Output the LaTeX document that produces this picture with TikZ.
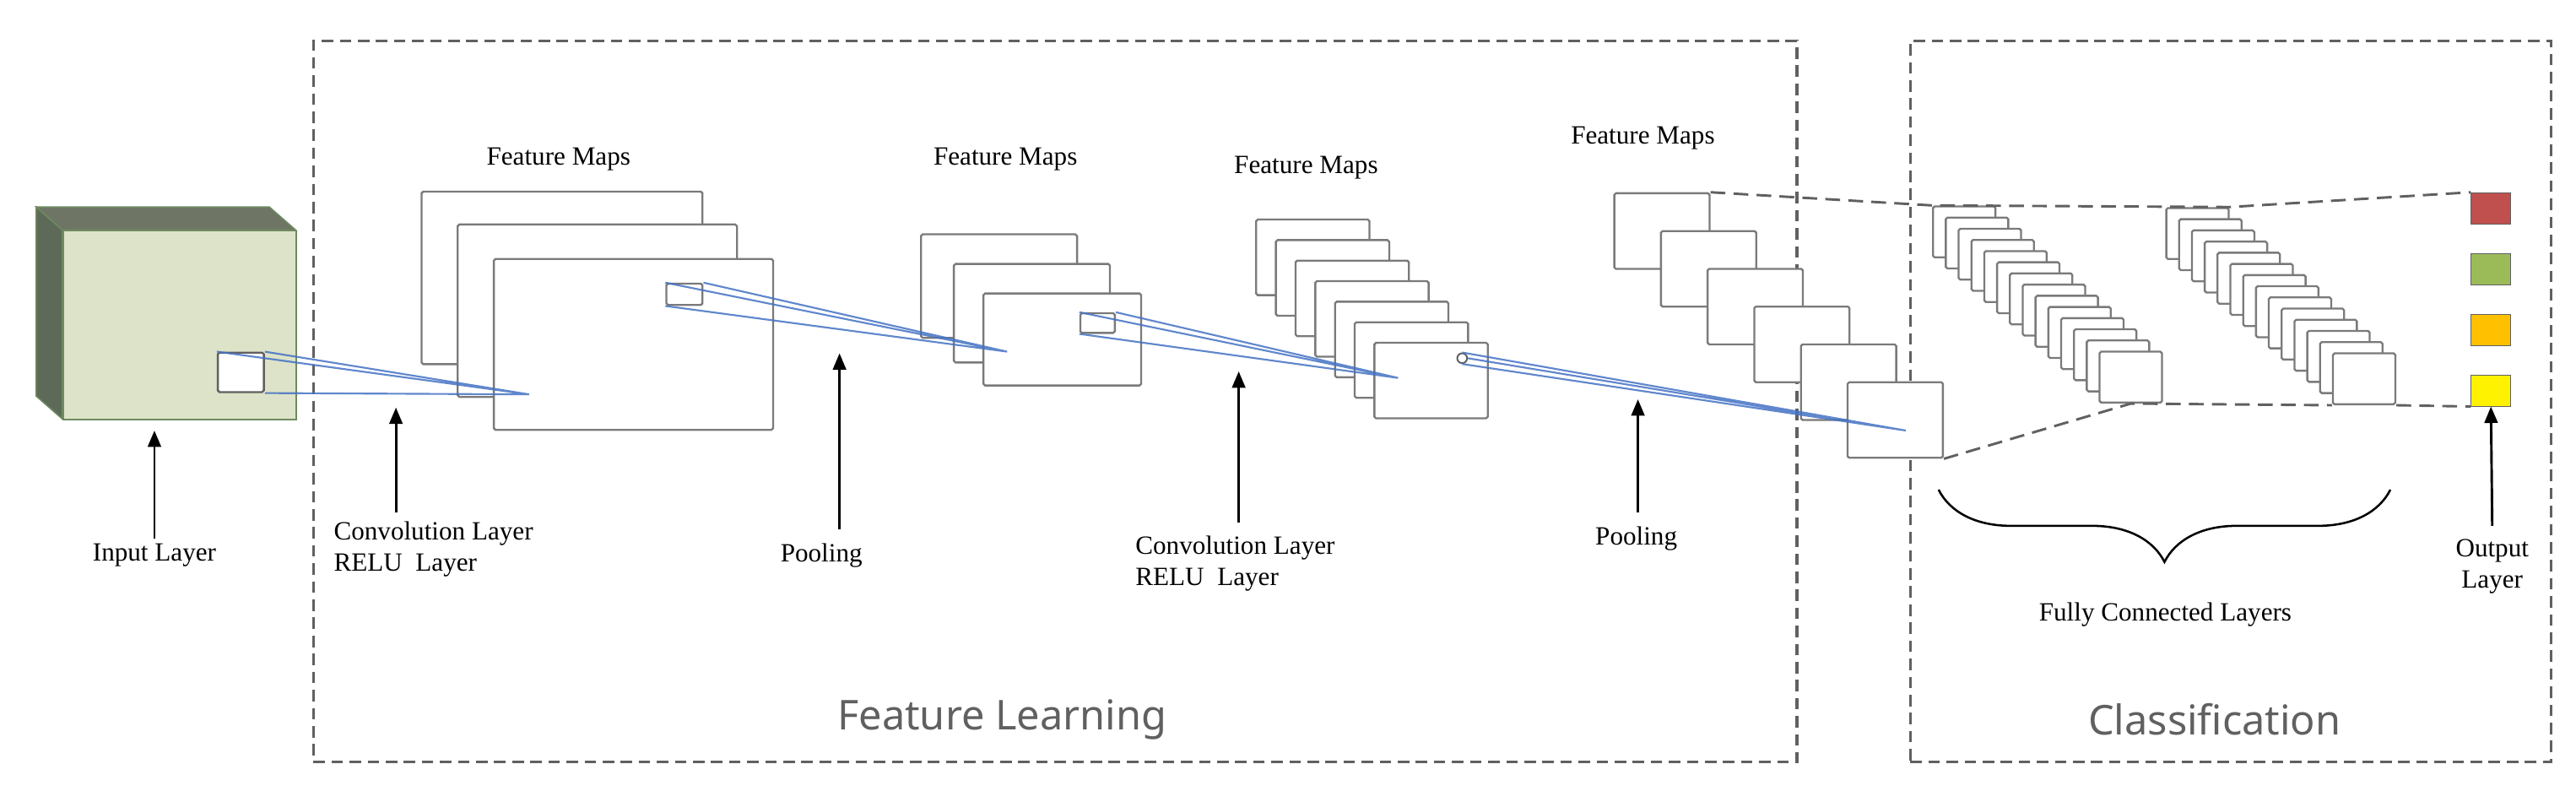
\documentclass[tikz,border=0pt]{standalone}
\usepackage{fontspec}
\setmainfont{Liberation Serif}
\newfontfamily\sansf{Noto Sans}
\usetikzlibrary{arrows.meta,decorations.pathreplacing}
\definecolor{dgray}{HTML}{606060}
\definecolor{mgray}{HTML}{7A7A7A}
\definecolor{lblue}{HTML}{4472C4}
\definecolor{cubetop}{HTML}{6F7565}
\definecolor{cubeside}{HTML}{5E6A58}
\definecolor{cubefront}{HTML}{DDE3C8}
\definecolor{cubeedge}{HTML}{6E8A60}
\definecolor{ored}{HTML}{C0504D}
\definecolor{ogreen}{HTML}{9BBB59}
\definecolor{oorange}{HTML}{FFC000}
\begin{document}
\begin{tikzpicture}[x=1pt,y=-1pt,
  lbl/.style={font=\fontsize{16}{19}\selectfont, inner sep=1pt},
  big/.style={font=\sansf\fontsize{25}{28}\selectfont, text=dgray},
  region/.style={draw=dgray, line width=1.6pt, dash pattern=on 7pt off 4pt},
  fmap/.style={draw=mgray, line width=1.2pt, fill=white, rounded corners=1pt},
  up/.style={-{Triangle[width=8pt,length=10pt]}, line width=1.5pt},
  blue/.style={draw=lblue, line width=1.1pt, opacity=0.85},
  guide/.style={draw=dgray, line width=1.5pt, dash pattern=on 9pt off 5pt},
  outsq/.style={draw=dgray, minimum width=24pt, minimum height=19pt, inner sep=0, anchor=north west}]
\useasboundingbox (0,0) rectangle (1568,488);
% regions
\node[region, minimum width=903pt, minimum height=439pt, anchor=north west, inner sep=0] (fl) at (190,24) {};
\node[region, minimum width=390pt, minimum height=439pt, anchor=north west, inner sep=0] (cl) at (1162,24) {};
\node[big] (flt) at (610,438) {Feature Learning};
\node[big] (clt) at (1348,438) {Classification};
% input cube
\filldraw[fill=cubetop, draw=cubeedge, line width=0.8pt] (22,126) -- (164,126) -- (180,140) -- (38,140) -- cycle;
\filldraw[fill=cubeside, draw=cubeedge, line width=0.8pt] (22,126) -- (38,140) -- (38,255) -- (22,241) -- cycle;
\node[draw=cubeedge, fill=cubefront, line width=0.8pt, minimum width=142pt, minimum height=115pt, anchor=north west, inner sep=0] (input) at (38,140) {};
\node[fmap, draw=dgray, minimum width=28pt, minimum height=24pt, anchor=north west, inner sep=0] (isq) at (132,214) {};
% feature maps 1
\node[fmap, minimum width=171pt, minimum height=105pt, anchor=north west, inner sep=0] (a1) at (256,116) {};
\node[fmap, minimum width=170pt, minimum height=105pt, anchor=north west, inner sep=0] (a2) at (278,136) {};
\node[fmap, minimum width=170pt, minimum height=104pt, anchor=north west, inner sep=0] (a3) at (300,157) {};
\node[fmap, minimum width=22pt, minimum height=13pt, anchor=north west, inner sep=0] (asq) at (405,172) {};
\node[lbl] (ta) at (340,97) {Feature Maps};
% feature maps 2
\node[fmap, minimum width=95pt, minimum height=63pt, anchor=north west, inner sep=0] (b1) at (560,142) {};
\node[fmap, minimum width=95pt, minimum height=60pt, anchor=north west, inner sep=0] (b2) at (580,160) {};
\node[fmap, minimum width=96pt, minimum height=56pt, anchor=north west, inner sep=0] (b3) at (598,178) {};
\node[fmap, minimum width=21pt, minimum height=12pt, anchor=north west, inner sep=0] (bsq) at (657,190) {};
\node[lbl] (tb) at (612,97) {Feature Maps};
% feature maps 3
\foreach \i in {0,...,6}{
  \node[fmap, minimum width=69pt, minimum height=46pt, anchor=north west, inner sep=0] (c\i) at (764+12*\i,133+12.5*\i) {};
}
\node[draw=dgray, circle, line width=1pt, minimum size=6pt, inner sep=0] (csq) at (890,218) {};
\node[lbl] (tc) at (795,102) {Feature Maps};
% feature maps 4
\foreach \i in {0,...,5}{
  \node[fmap, minimum width=58pt, minimum height=46pt, anchor=north west, inner sep=0] (d\i) at (982+28.4*\i,117+23*\i) {};
}
\node[lbl] (td) at (1000,84) {Feature Maps};
% FC stacks
\foreach \i in {0,...,13}{
  \node[fmap, minimum width=38pt, minimum height=31pt, anchor=north west, inner sep=0] (e\i) at (1176+7.8*\i,125+6.8*\i) {};
}
\foreach \i in {0,...,13}{
  \node[fmap, minimum width=38pt, minimum height=31pt, anchor=north west, inner sep=0] (f\i) at (1318+7.8*\i,126+6.8*\i) {};
}
% output squares
\node[outsq, fill=ored] (o1) at (1504,117) {};
\node[outsq, fill=ogreen] (o2) at (1504,154) {};
\node[outsq, fill=oorange] (o3) at (1504,191) {};
\node[outsq, fill=yellow] (o4) at (1504,228) {};
% guide dashed lines
\draw[guide] (d0.north east) -- (e0.north west) -- (f0.north east) -- (o1.north west);
\draw[guide] (d5.south east) -- (e13.south) -- (f13.south west) (f13.south east) -- (o4.south west);
% blue projection lines
\coordinate (p1) at (322,240);
\coordinate (p2) at (613,214);
\coordinate (p3) at (851,230);
\coordinate (p4) at (1160,262);
\draw[blue] (isq.north west) -- (p1) (isq.north east) -- (p1) (isq.south east) -- (p1);
\draw[blue] (asq.north west) -- (p2) (asq.north east) -- (p2) (asq.south west) -- (p2);
\draw[blue] (bsq.north west) -- (p3) (bsq.north east) -- (p3) (bsq.south west) -- (p3);
\draw[blue] (csq.north) -- (p4) (csq.east) -- (p4) (csq.south) -- (p4);
% brace
\draw[line width=1.3pt, decorate, decoration={brace, mirror, amplitude=44pt, aspect=0.5}] (1180,298) -- (1455,298);
\node[lbl] (tfc) at (1318,374) {Fully Connected Layers};
% arrows and labels
\node[lbl] (t1) at (94,338) {Input Layer};
\node[lbl, align=left, anchor=north west] (t2) at (202,316) {Convolution Layer\\RELU\ \ Layer};
\node[lbl] (t3) at (500,338) {Pooling};
\node[lbl, align=left, anchor=north west] (t4) at (690,325) {Convolution Layer\\RELU\ \ Layer};
\node[lbl] (t5) at (996,328) {Pooling};
\node[lbl, align=center] (t6) at (1517,345) {Output\\Layer};
\coordinate (h1) at (94,262);
\coordinate (h2) at (241,248);
\coordinate (h3) at (511,215);
\coordinate (h4) at (754,226);
\coordinate (h5) at (997,243);
\coordinate (s1) at (94,328);
\coordinate (s2) at (241,312);
\coordinate (s3) at (511,322);
\coordinate (s4) at (754,318);
\coordinate (s5) at (997,312);
\coordinate (s6) at (1517,320);
\draw[up] (s1) -- (h1);
\draw[up] (s2) -- (h2);
\draw[up] (s3) -- (h3);
\draw[up] (s4) -- (h4);
\draw[up] (s5) -- (h5);
\draw[up] (s6) -- (o4.south);
\end{tikzpicture}
\end{document}
